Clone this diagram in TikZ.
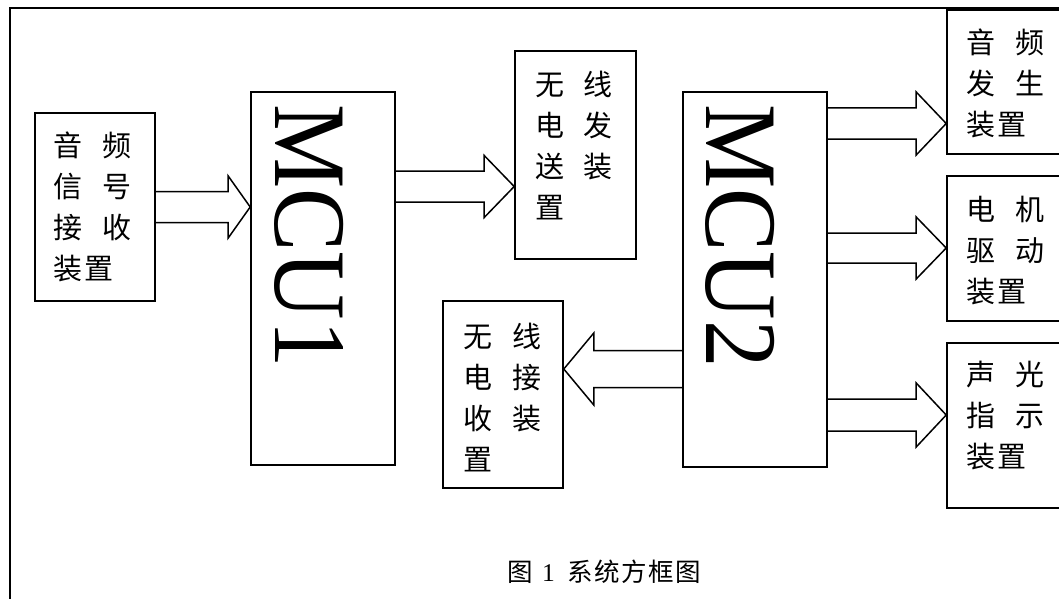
\documentclass[tikz,border=0pt]{standalone}
\usepackage{fontspec}
\setmainfont{Liberation Serif}
\newfontfamily\cjk{Noto Sans CJK SC}
\usetikzlibrary{calc}
\newcommand\cc[2]{\makebox[48.5pt][l]{#1}#2}
\tikzset{
  box/.style={draw, line width=1.6pt, inner sep=0pt},
  lbl/.style={inner sep=0pt, align=left, font=\cjk\fontsize{29}{41}\selectfont},
  mcu/.style={inner sep=0pt, rotate=-90, font=\fontsize{103}{110}\selectfont},
  captxt/.style={inner sep=0pt, font=\cjk\fontsize{25.5}{30}\selectfont},
  arr/.style={draw, line width=1.5pt, line join=miter},
  frame/.style={draw, line width=2.2pt},
}
\newcommand\blockarrow[5]{%
  \coordinate (hb) at ($(#2)!#5pt!(#1)$);
  \draw[arr] ($(#1)+(0,#3)$) -- ($(hb)+(0,#3)$) -- ($(hb)+(0,#4)$) -- (#2)
     -- ($(hb)+(0,-#4)$) -- ($(hb)+(0,-#3)$) -- ($(#1)+(0,-#3)$);}
\begin{document}
\begin{tikzpicture}[x=1pt,y=-1pt]
\useasboundingbox (0,0) rectangle (1059,599);
\clip (0,0) rectangle (1059,599);
\draw[frame] (10,8) rectangle (1075,615);

% boxes
\node[box, minimum width=120pt, minimum height=188pt] (in)   at (95,207) {};
\node[box, minimum width=144pt, minimum height=373pt] (mcu1) at (323,278.5) {};
\node[box, minimum width=121pt, minimum height=208pt] (tx)   at (575.5,155) {};
\node[box, minimum width=144pt, minimum height=375pt] (mcu2) at (755,279.5) {};
\node[box, minimum width=120pt, minimum height=187pt] (rx)   at (503,394.5) {};
\node[box, minimum width=123pt, minimum height=144pt] (out1) at (1008.5,82) {};
\node[box, minimum width=123pt, minimum height=145pt] (out2) at (1008.5,248.5) {};
\node[box, minimum width=123pt, minimum height=165pt] (out3) at (1008.5,425.5) {};

% labels
\node[lbl] (inT) at (92.5,206.5) {\cc{音}{频}\\\cc{信}{号}\\\cc{接}{收}\\装\hspace{2pt}置};
\node[lbl] (txT) at (574,145.5) {\cc{无}{线}\\\cc{电}{发}\\\cc{送}{装}\\置};
\node[lbl] (rxT) at (502.5,397.5) {\cc{无}{线}\\\cc{电}{接}\\\cc{收}{装}\\置};
\node[lbl] (o1T) at (1005.5,83.5) {\cc{音}{频}\\\cc{发}{生}\\装\hspace{2pt}置};
\node[lbl] (o2T) at (1005.5,251) {\cc{电}{机}\\\cc{驱}{动}\\装\hspace{2pt}置};
\node[lbl] (o3T) at (1005.5,416) {\cc{声}{光}\\\cc{指}{示}\\装\hspace{2pt}置};
\node[mcu] (m1T) at (309,236) {\scalebox{0.92}[1]{MCU1}};
\node[mcu] (m2T) at (740.5,236) {\scalebox{0.92}[1]{MCU2}};

% arrows
\coordinate (s1) at (in.east);
\coordinate (t1) at (in.east -| mcu1.west);
\blockarrow{s1}{t1}{15.5}{31}{22}
\coordinate (t2) at ($(tx.west)+(0,31.5)$);
\coordinate (s2) at (t2 -| mcu1.east);
\blockarrow{s2}{t2}{15.5}{31}{30}
\coordinate (t3) at ($(rx.east)+(0,-25.5)$);
\coordinate (s3) at (t3 -| mcu2.west);
\blockarrow{s3}{t3}{18.5}{36}{30}
\coordinate (t4) at ($(out1.west)+(0,41.5)$);
\coordinate (s4) at (t4 -| mcu2.east);
\blockarrow{s4}{t4}{15.5}{31.5}{30}
\coordinate (t5) at ($(out2.west)+(0,-0.5)$);
\coordinate (s5) at (t5 -| mcu2.east);
\blockarrow{s5}{t5}{15}{31}{30}
\coordinate (t6) at ($(out3.west)+(0,-10.5)$);
\coordinate (s6) at (t6 -| mcu2.east);
\blockarrow{s6}{t6}{16}{32}{30}

% caption
\node[captxt] (caption) at (604.5,572) {图\hspace{9pt}{\rmfamily 1}\hspace{13pt}系\hspace{1.5pt}统\hspace{1.5pt}方\hspace{1.5pt}框\hspace{1.5pt}图};
\end{tikzpicture}
\end{document}
